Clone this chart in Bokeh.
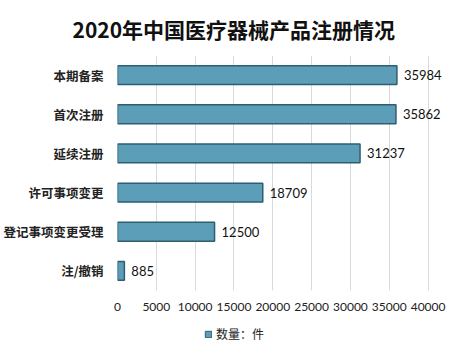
from bokeh.plotting import figure
from bokeh.layouts import column
from bokeh.models import ColumnDataSource, FixedTicker, Legend, LegendItem
from bokeh.core.properties import value
from bokeh.embed import file_html
from bokeh.resources import INLINE

categories = ["本期备案", "首次注册", "延续注册", "许可事项变更", "登记事项变更受理", "注/撤销"]
counts = [35984, 35862, 31237, 18709, 12500, 885]
x_ticks = [0, 5000, 10000, 15000, 20000, 25000, 30000, 35000, 40000]
title_text = "2020年中国医疗器械产品注册情况"
series_name = "数量：件"
bar_color = "#5c9db8"
edge_color = "#2f5e70"

src = ColumnDataSource(dict(cat=categories, val=counts, lab=[str(v) for v in counts]))

p = figure(width=452, height=315, y_range=list(reversed(categories)), x_range=(0, 42500),
           output_backend="svg", toolbar_location=None, title=title_text,
           min_border_left=109, min_border_right=5, min_border_top=0, min_border_bottom=25)
p.title.align = "left"
p.title.offset = -45
p.title.text_font = "Noto Sans CJK SC"
p.title.text_font_size = "21px"
p.title.text_font_style = "bold"
p.title.text_color = "#111111"
p.title.standoff = 23
p.outline_line_color = None
p.border_fill_color = "white"

bars = p.hbar(y="cat", right="val", left=0, height=0.48, source=src,
              fill_color=bar_color, line_color=edge_color, line_width=1.5)
p.text(x="val", y="cat", text="lab", source=src, x_offset=7, text_baseline="middle",
       text_font=value("Lato"), text_font_size="13px", text_color="#111111")

p.xaxis.ticker = FixedTicker(ticks=x_ticks)
p.xaxis.axis_line_color = None
p.xaxis.major_tick_line_color = None
p.xaxis.minor_tick_line_color = None
p.xaxis.major_label_text_font = "Lato"
p.xaxis.major_label_text_font_size = "12px"
p.xaxis.major_label_text_color = "#222222"
p.xaxis.major_label_standoff = 6

p.yaxis.axis_line_color = None
p.yaxis.major_tick_line_color = None
p.yaxis.minor_tick_line_color = None
p.yaxis.major_label_text_font = "Noto Sans CJK SC"
p.yaxis.major_label_text_font_size = "12.5px"
p.yaxis.major_label_text_font_style = "bold"
p.yaxis.major_label_text_color = "#222222"
p.yaxis.major_label_standoff = 8

p.xgrid.grid_line_color = "#d9d9d9"
p.ygrid.grid_line_color = None

# legend strip
lg = figure(width=452, height=28, x_range=(0, 1), y_range=(0, 1),
            output_backend="svg", toolbar_location=None,
            x_axis_type=None, y_axis_type=None,
            min_border_left=0, min_border_right=0, min_border_top=0, min_border_bottom=0)
lg.outline_line_color = None
lg.xgrid.grid_line_color = None
lg.ygrid.grid_line_color = None
proxy = lg.hbar(y=[-5], right=[1], left=0, height=0.5,
                fill_color=bar_color, line_color=edge_color, line_width=1)
legend = Legend(items=[LegendItem(label=series_name, renderers=[proxy])],
                orientation="horizontal", location=(87, 1),
                label_text_font="Noto Sans CJK SC", label_text_font_size="12px",
                label_text_color="#222222", glyph_width=8, glyph_height=8, label_standoff=4,
                border_line_color=None, background_fill_alpha=0, padding=3, margin=0)
lg.add_layout(legend)

open("out.html", "w").write(file_html(column(p, lg, spacing=0), INLINE))
